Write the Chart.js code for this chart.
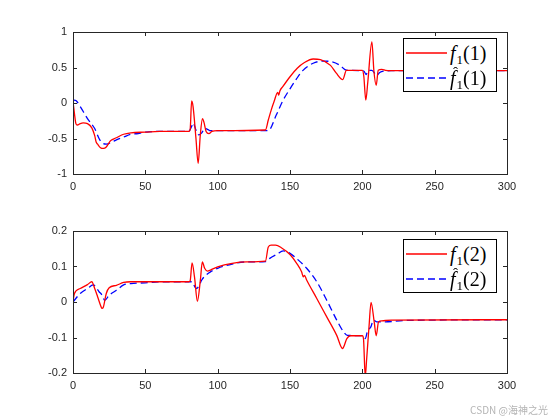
<!DOCTYPE html>
<html>
<head>
<meta charset="utf-8">
<script src="https://cdn.jsdelivr.net/npm/chart.js@4/dist/chart.umd.min.js"></script>
<style>
  body { margin: 0; background: #fff; }
  #wrap { position: relative; width: 560px; height: 420px; overflow: hidden; }
  .plot { position: absolute; left: 0; width: 560px; }
  .legend { position: absolute; left: 403px; width: 92px; height: 52px; border: 1px solid #000; background: #fff;
            font-family: "Liberation Serif", "DejaVu Serif", serif; font-size: 20px; color: #000; }
  .row { position: absolute; left: 0; height: 24px; width: 92px; }
  .row svg { position: absolute; left: 1px; top: 0; }
  .lab { position: absolute; left: 46px; top: 0; line-height: 24px; white-space: nowrap; }
  .lab i { position: relative; }
  .lab sub { font-size: 13px; vertical-align: -4px; margin-left: 1px; }
  .hat { position: absolute; left: 3px; top: -2px; font-style: normal; font-size: 15px; line-height: 15px; }
  #mark { position: absolute; right: 12px; top: 402px; font: 10px "Noto Sans CJK SC", "Noto Sans", sans-serif; color: #b4b4b4; }
</style>
</head>
<body>
<div id="wrap">
  <div class="plot" style="top:0;height:205px"><canvas id="top"></canvas></div>
  <div class="plot" style="top:205px;height:215px"><canvas id="bot"></canvas></div>

  <div class="legend" style="top:38px">
    <div class="row" style="top:2px">
      <svg width="44" height="24"><line x1="1" y1="12" x2="42" y2="12" stroke="#ff0000" stroke-width="1.3"/></svg>
      <span class="lab"><i>f</i><sub>1</sub>(1)</span>
    </div>
    <div class="row" style="top:27px">
      <svg width="44" height="24"><line x1="1" y1="12" x2="42" y2="12" stroke="#0000ff" stroke-width="1.3" stroke-dasharray="7,4"/></svg>
      <span class="lab"><i>f<span class="hat">ˆ</span></i><sub>1</sub>(1)</span>
    </div>
  </div>
  <div class="legend" style="top:239px">
    <div class="row" style="top:2px">
      <svg width="44" height="24"><line x1="1" y1="12" x2="42" y2="12" stroke="#ff0000" stroke-width="1.3"/></svg>
      <span class="lab"><i>f</i><sub>1</sub>(2)</span>
    </div>
    <div class="row" style="top:27px">
      <svg width="44" height="24"><line x1="1" y1="12" x2="42" y2="12" stroke="#0000ff" stroke-width="1.3" stroke-dasharray="7,4"/></svg>
      <span class="lab"><i>f<span class="hat">ˆ</span></i><sub>1</sub>(2)</span>
    </div>
  </div>
  <div id="mark">CSDN @海神之光</div>
</div>

<script>
// eje x comun
const xTicks = [0, 50, 100, 150, 200, 250, 300];
const topYTicks = [-1, -0.5, 0, 0.5, 1];
const botYTicks = [-0.2, -0.1, 0, 0.1, 0.2];

// f1(1) real (rojo)
const topRedX = [0, 1, 2, 3, 5, 7, 10, 13, 15, 16, 17, 19, 21, 23, 24, 26, 30, 35, 40, 50, 60, 80, 81, 82, 83, 85, 86.5, 88, 89.5, 90.5, 92, 94, 96, 100, 133, 135, 137, 139, 141.5, 142.2, 143, 145, 150, 155, 160, 166, 171, 178, 182, 186.5, 189, 200, 201, 202.4, 203.8, 206.6, 208, 209.6, 211, 213.5, 216, 220, 300];
const topRedY = [0.02, -0.15, -0.29, -0.31, -0.29, -0.28, -0.29, -0.35, -0.46, -0.55, -0.58, -0.63, -0.64, -0.62, -0.59, -0.53, -0.49, -0.44, -0.42, -0.41, -0.40, -0.40, -0.37, 0.03, -0.05, -0.50, -0.85, -0.45, -0.22, -0.27, -0.40, -0.43, -0.40, -0.39, -0.38, -0.24, -0.10, 0.02, 0.15, 0.11, 0.17, 0.23, 0.37, 0.49, 0.57, 0.62, 0.61, 0.53, 0.42, 0.33, 0.46, 0.46, 0.38, 0.04, 0.30, 0.86, 0.45, 0.25, 0.46, 0.475, 0.46, 0.455, 0.455];
// f1(1) estimada (azul)
const topBlueX = [0, 1, 2, 5, 10, 15, 18, 20, 23, 27, 30, 35, 40, 45, 50, 60, 80, 82, 83, 85, 87, 89, 91, 93, 95, 135, 140.5, 145, 150, 154.5, 159, 166, 173, 179, 184.5, 188, 190, 201, 202.6, 204, 206.6, 210, 212, 215, 220, 300];
const topBlueY = [0.02, 0.04, 0.035, -0.05, -0.22, -0.36, -0.50, -0.56, -0.58, -0.55, -0.52, -0.48, -0.44, -0.43, -0.41, -0.40, -0.40, -0.33, -0.28, -0.38, -0.45, -0.42, -0.36, -0.37, -0.39, -0.39, -0.17, 0.03, 0.20, 0.34, 0.46, 0.56, 0.59, 0.58, 0.53, 0.47, 0.46, 0.45, 0.40, 0.46, 0.46, 0.39, 0.43, 0.45, 0.455, 0.455];

// f1(2) real (rojo)
const botRedX = [0, 1, 5, 10, 13, 15, 17, 19, 20, 21, 23, 25, 30, 35, 40, 80, 81, 82.3, 84, 86, 88, 89.4, 91, 93, 95, 100, 110, 120, 133, 135, 137, 140, 144, 150, 154.6, 158, 159.2, 160, 161.5, 168.5, 175.4, 182.3, 186.3, 189.3, 191.6, 200, 200.8, 202, 203, 204.7, 206, 208.2, 209.6, 211.2, 213.5, 220, 300];
const botRedY = [0.002, 0.024, 0.038, 0.049, 0.057, 0.038, 0.015, -0.009, -0.018, -0.014, 0.024, 0.040, 0.047, 0.055, 0.057, 0.057, 0.06, 0.11, 0.07, 0.002, 0.06, 0.113, 0.095, 0.087, 0.09, 0.099, 0.109, 0.113, 0.115, 0.155, 0.16, 0.16, 0.153, 0.134, 0.109, 0.085, 0.071, 0.075, 0.062, 0.01, -0.042, -0.094, -0.131, -0.103, -0.095, -0.095, -0.103, -0.21, -0.16, -0.065, -0.001, -0.056, -0.095, -0.056, -0.053, -0.051, -0.05];
// f1(2) estimada (azul)
const botBlueX = [0, 5, 10, 14, 18, 20, 22, 25, 30, 35, 40, 50, 60, 82, 85.3, 87, 89, 92, 95, 100, 110, 120, 133, 136, 140.8, 145.4, 150, 155.8, 161.5, 168.5, 175.4, 182.3, 187, 189.7, 200, 202, 203.6, 205.9, 207.7, 210, 214.7, 230, 300];
const botBlueY = [0, 0.024, 0.038, 0.048, 0.029, 0.02, 0.005, 0.019, 0.033, 0.048, 0.052, 0.054, 0.057, 0.057, 0.038, 0.045, 0.062, 0.076, 0.085, 0.095, 0.107, 0.113, 0.114, 0.123, 0.134, 0.144, 0.137, 0.118, 0.095, 0.057, 0.005, -0.051, -0.084, -0.094, -0.095, -0.103, -0.082, -0.07, -0.051, -0.056, -0.056, -0.052, -0.05];

const pts = (xs, ys) => xs.map((x, i) => ({ x: x, y: ys[i] }));

// caja tipo MATLAB con marcas hacia dentro
const boxPlugin = {
    id: 'box',
    afterDraw(chart) {
        const a = chart.chartArea, ctx = chart.ctx;
        const sx = chart.scales.x, sy = chart.scales.y;
        ctx.save();
        ctx.strokeStyle = '#262626';
        ctx.lineWidth = 1;
        ctx.beginPath();
        sx.ticks.forEach(t => {
            const px = Math.round(sx.getPixelForValue(t.value)) + 0.5;
            ctx.moveTo(px, a.bottom); ctx.lineTo(px, a.bottom - 4);
            ctx.moveTo(px, a.top); ctx.lineTo(px, a.top + 4);
        });
        sy.ticks.forEach(t => {
            const py = Math.round(sy.getPixelForValue(t.value)) + 0.5;
            ctx.moveTo(a.left, py); ctx.lineTo(a.left + 4, py);
            ctx.moveTo(a.right, py); ctx.lineTo(a.right - 4, py);
        });
        ctx.stroke();
        ctx.strokeRect(Math.round(a.left) + 0.5, Math.round(a.top) + 0.5, Math.round(a.right - a.left), Math.round(a.bottom - a.top));
        ctx.restore();
    }
};

function makeChart(id, redX, redY, blueX, blueY, yTicks, padTop, xHeight) {
    const tickFont = { family: '"Liberation Sans", Arial, sans-serif', size: 11 };
    return new Chart(document.getElementById(id), {
        type: 'line',
        data: {
            datasets: [{
                data: pts(redX, redY),
                borderColor: '#ff0000',
                borderWidth: 1.3,
                pointRadius: 0,
                cubicInterpolationMode: 'monotone'
            }, {
                data: pts(blueX, blueY),
                borderColor: '#0000ff',
                borderWidth: 1.3,
                borderDash: [7, 4],
                pointRadius: 0,
                cubicInterpolationMode: 'monotone'
            }]
        },
        options: {
            responsive: true,
            maintainAspectRatio: false,
            animation: false,
            layout: { padding: { top: padTop, right: 53, left: 0, bottom: 0 } },
            plugins: { legend: { display: false }, tooltip: { enabled: false } },
            scales: {
                x: {
                    type: 'linear', min: 0, max: 300,
                    afterBuildTicks: s => { s.ticks = xTicks.map(v => ({ value: v })); },
                    afterFit: s => { s.height = xHeight; },
                    grid: { display: false, drawTicks: false },
                    border: { display: false },
                    ticks: { color: '#262626', font: tickFont, padding: 6, maxRotation: 0, callback: v => String(v) }
                },
                y: {
                    min: yTicks[0], max: yTicks[yTicks.length - 1],
                    afterBuildTicks: s => { s.ticks = yTicks.map(v => ({ value: v })); },
                    afterFit: s => { s.width = 73; },
                    grid: { display: false, drawTicks: false },
                    border: { display: false },
                    ticks: { color: '#262626', font: tickFont, padding: 6, callback: v => String(v) }
                }
            }
        },
        plugins: [boxPlugin]
    });
}

makeChart('top', topRedX, topRedY, topBlueX, topBlueY, topYTicks, 32, 31);
makeChart('bot', botRedX, botRedY, botBlueX, botBlueY, botYTicks, 26, 47);
</script>
</body>
</html>
